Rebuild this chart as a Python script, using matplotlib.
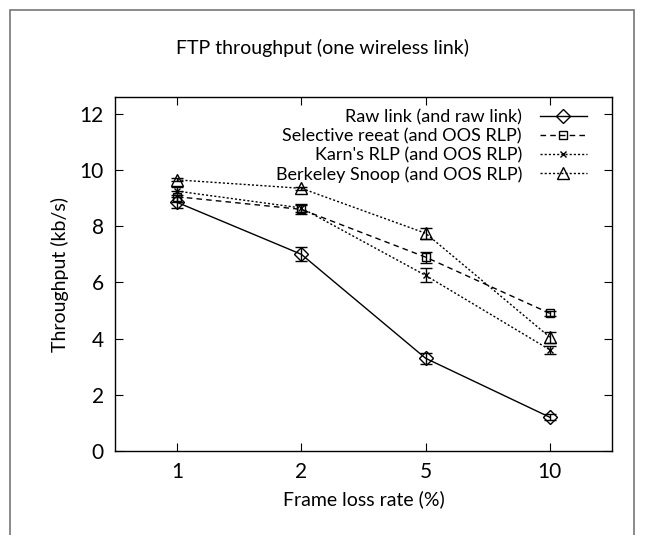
import matplotlib
matplotlib.use("Agg")
import matplotlib.pyplot as plt
from matplotlib.patches import Rectangle

plt.rcParams['font.family'] = ['Lato', 'DejaVu Sans']

loss_rates = ["1", "2", "5", "10"]
raw_link = [8.85, 7.0, 3.3, 1.2]
raw_err = [0.2, 0.25, 0.2, 0.1]
selective = [9.05, 8.6, 6.9, 4.9]
selective_err = [0.2, 0.15, 0.2, 0.1]
karn = [9.25, 8.65, 6.25, 3.6]
karn_err = [0.15, 0.15, 0.25, 0.15]
snoop = [9.65, 9.35, 7.75, 4.05]
snoop_err = [0.05, 0.05, 0.2, 0.2]

labels = ["Raw link (and raw link)", "Selective reeat (and OOS RLP)",
          "Karn's RLP (and OOS RLP)", "Berkeley Snoop (and OOS RLP)"]

fig = plt.figure(figsize=(6.45, 5.35), dpi=100)
fig.patches.append(Rectangle((10/645, -0.05), 624/645, 1 - 10/535 + 0.05,
                             transform=fig.transFigure, fill=False,
                             edgecolor='#777777', lw=1.2))
ax = fig.add_axes([115/645, 1 - 451/535, 497/645, 354/535])

x = list(range(1, len(loss_rates) + 1))
series = [
    (raw_link, raw_err, '-', 'D', 7, 'none'),
    (selective, selective_err, (0, (4, 3)), 's', 6, 'none'),
    (karn, karn_err, (0, (1.5, 1.5)), 'x', 5, 'black'),
    (snoop, snoop_err, (0, (1.5, 1.5)), '^', 8, 'none'),
]
handles = []
for (vals, errs, ls, mk, ms, fc), lab in zip(series, labels):
    ax.errorbar(x, vals, yerr=errs, fmt='none', ecolor='black', elinewidth=1,
                capsize=4, capthick=1)
    h, = ax.plot(x, vals, linestyle=ls, color='black', lw=1, marker=mk,
                 markersize=ms, markerfacecolor=fc, markeredgecolor='black',
                 markeredgewidth=1, label=lab)
    handles.append(h)

ax.set_xlim(0.5, 4.5)
ax.set_ylim(0, 12.6)
ax.set_xticks(x)
ax.set_xticklabels(loss_rates)
ax.set_yticks([0, 2, 4, 6, 8, 10, 12])
ax.tick_params(direction='in', length=6, labelsize=15, top=True, right=True,
               pad=8)
for s in ax.spines.values():
    s.set_linewidth(1)

ax.set_xlabel("Frame loss rate (%)", fontsize=14, labelpad=6)
ax.set_ylabel("Throughput (kb/s)", fontsize=14, labelpad=8)
fig.text(0.5, 1 - 48/535, "FTP throughput (one wireless link)", ha='center',
         va='center', fontsize=14)

leg = ax.legend(handles=handles, loc='upper right', markerfirst=False,
                frameon=False, fontsize=13, handlelength=2.6,
                labelspacing=0.15, borderaxespad=0.3, handletextpad=1.0,
                bbox_to_anchor=(0.975, 1.0))
for t in leg.get_texts():
    t.set_ha('right')
leg._legend_box.align = 'right'

fig.savefig("out.png", dpi=100)
